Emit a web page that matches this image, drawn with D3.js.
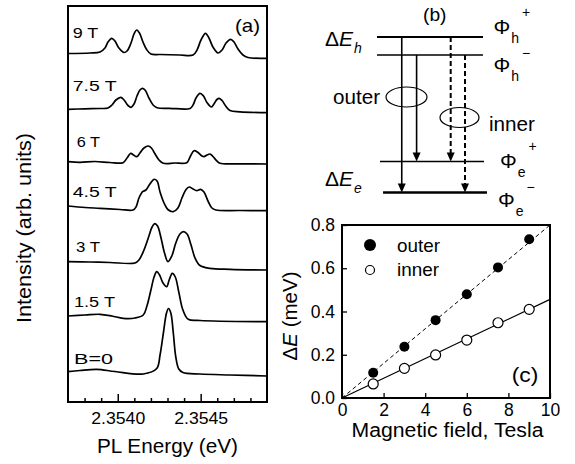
<!DOCTYPE html>
<html><head><meta charset="utf-8">
<script src="https://cdn.jsdelivr.net/npm/d3@7"></script>
<style>
body{margin:0;background:#fff;}
svg text{font-family:"Liberation Sans",Arial,Helvetica,sans-serif;fill:#000;}
</style></head><body>
<svg id="chart" width="575" height="464"></svg>
<script>
// ---------------- DATA ----------------
// Panel (a): PL spectra, [energy (eV), intensity incl. vertical offset (arb. units)]
const fieldLabels = ["9 T","7.5 T","6 T","4.5 T","3 T","1.5 T","B=0"];
const trace9T = [[2.353700,348.5],[2.353833,349],[2.353893,350],[2.353923,354],[2.353941,360],[2.353964,363.7],[2.353983,361],[2.354007,354],[2.354038,349.5],[2.354056,351],[2.354080,359],[2.354098,368],[2.354114,372],[2.354131,369],[2.354152,360],[2.354176,352],[2.354200,348],[2.354255,347.5],[2.354375,347],[2.354454,347],[2.354478,352],[2.354502,362],[2.354529,368.7],[2.354550,364],[2.354574,355],[2.354605,349],[2.354629,352],[2.354653,359],[2.354681,362.7],[2.354701,360],[2.354725,353],[2.354755,347],[2.354785,344.5],[2.354898,343.7]];
const trace75T = [[2.353700,292.7],[2.353803,293.2],[2.353893,293.5],[2.353941,294],[2.353965,297],[2.353989,302],[2.354018,304.7],[2.354038,302],[2.354062,296.5],[2.354080,294.7],[2.354098,298],[2.354116,306],[2.354134,312],[2.354150,313.7],[2.354167,311.5],[2.354188,304],[2.354213,297],[2.354237,294.3],[2.354314,293.7],[2.354436,293.5],[2.354454,297],[2.354472,304],[2.354496,308.7],[2.354517,306],[2.354538,299.5],[2.354565,295],[2.354580,298],[2.354598,302.5],[2.354612,303.7],[2.354629,301.5],[2.354653,295.5],[2.354677,291.5],[2.354737,290.2],[2.354898,289.3]];
const trace6T = [[2.353700,240.3],[2.353772,239.7],[2.353863,240.5],[2.353953,239.5],[2.354032,239.3],[2.354056,244],[2.354078,248.7],[2.354095,247],[2.354114,245.3],[2.354134,249],[2.354158,254],[2.354184,256],[2.354203,254],[2.354225,248],[2.354249,242],[2.354275,238.7],[2.354344,239],[2.354416,239.3],[2.354436,245],[2.354460,251.3],[2.354484,249.5],[2.354508,246],[2.354520,245.3],[2.354538,247],[2.354556,248],[2.354574,245.5],[2.354598,241],[2.354617,238.7],[2.354737,238.2],[2.354898,238]];
const trace45T = [[2.353700,196],[2.353803,194.5],[2.353893,193.7],[2.354014,192.5],[2.354092,192],[2.354110,195],[2.354128,204],[2.354150,210.3],[2.354170,212],[2.354194,218],[2.354219,222.7],[2.354237,221],[2.354255,210],[2.354279,199],[2.354302,192.5],[2.354334,190.3],[2.354363,194],[2.354387,204],[2.354412,212.5],[2.354431,215],[2.354454,213],[2.354476,211.3],[2.354500,212.7],[2.354520,210],[2.354544,201],[2.354568,194],[2.354592,192],[2.354737,191.5],[2.354898,191.3]];
const trace3T = [[2.353700,140.3],[2.353833,140],[2.353953,139.5],[2.354104,139],[2.354128,142],[2.354158,152],[2.354188,166],[2.354207,175],[2.354223,178.3],[2.354240,176],[2.354261,164],[2.354282,149],[2.354303,140.3],[2.354326,146],[2.354350,159],[2.354375,168],[2.354396,170.3],[2.354418,168],[2.354442,157],[2.354466,144],[2.354496,136.5],[2.354556,133.7],[2.354677,132.7],[2.354898,132]];
const trace15T = [[2.353700,86],[2.353803,87],[2.353893,87.7],[2.353965,86],[2.354033,83.7],[2.354104,84],[2.354154,87],[2.354176,96],[2.354200,112],[2.354219,125],[2.354235,130.3],[2.354252,127],[2.354273,119],[2.354295,115.3],[2.354310,122],[2.354329,128.7],[2.354347,125],[2.354368,110],[2.354393,92],[2.354425,82.7],[2.354496,81.5],[2.354898,80.3]];
const trace0T = [[2.353700,30.3],[2.353772,31.5],[2.353873,32.7],[2.353983,30.5],[2.354154,28],[2.354235,33.5],[2.354255,47],[2.354276,70],[2.354294,89],[2.354306,93.5],[2.354320,89],[2.354335,69],[2.354350,45],[2.354368,33],[2.354393,29.5],[2.354496,28],[2.354677,27],[2.354898,26]];
const energyMajorTicks = [2.3540, 2.3545];
const energyMinorTicks = [2.3538,2.3539,2.3541,2.3542,2.3543,2.3544,2.3546,2.3547,2.3548];

// Panel (b): level scheme
const levelNames = [["h","+"],["h","\u2212"],["e","+"],["e","\u2212"]];
const levelEnergies = [1.0, 0.885, 0.2, 0.0];
// transitions: [from level, to level, kind]
const transitions = [[0,3,"outer"],[1,2,"outer"],[0,2,"inner"],[1,3,"inner"]];

// Panel (c): splitting vs field
const fields = [1.5, 3, 4.5, 6, 7.5, 9];
const outerSplit = [0.117, 0.237, 0.36, 0.48, 0.604, 0.734];
const innerSplit = [0.065, 0.137, 0.199, 0.268, 0.348, 0.41];
const outerFit = [[0,0],[10,0.8]];
const innerFit = [[0,0],[10,0.456]];
const fieldTicks = [0,2,4,6,8,10];
const splitTicks = [0.0,0.2,0.4,0.6,0.8];

// ---------------- DRAW ----------------
const svg = d3.select("#chart");
function label(g, x, y, s, size, o = {}) {
  const t = g.append("text").attr("x", x).attr("y", y).attr("font-size", size).text(s);
  if (o.anchor) t.attr("text-anchor", o.anchor);
  if (o.len) t.attr("textLength", o.len).attr("lengthAdjust", "spacingAndGlyphs");
  if (o.rotate) t.attr("transform", `rotate(${o.rotate},${x},${y})`);
  if (o.italic) t.attr("font-style", "italic");
  return t;
}

// ===== Panel (a) =====
const ga = svg.append("g");
const xa = d3.scaleLinear().domain([2.3537, 2.3549]).range([68, 267]);
const ya = d3.scaleLinear().domain([0, 396]).range([402, 6]);
const traces = [trace9T, trace75T, trace6T, trace45T, trace3T, trace15T, trace0T];
const lineA = d3.line().x(d => xa(d[0])).y(d => ya(d[1])).curve(d3.curveCatmullRom.alpha(0.5));
ga.selectAll("path.trace").data(traces).join("path").attr("class", "trace")
  .attr("d", lineA).attr("fill", "none").attr("stroke", "#000").attr("stroke-width", 1.7)
  .attr("stroke-linejoin", "round");

const axMaj = d3.axisBottom(xa).tickValues(energyMajorTicks).tickFormat(d3.format(".4f"))
  .tickSizeInner(-8).tickSizeOuter(0).tickPadding(11);
const axMin = d3.axisBottom(xa).tickValues(energyMinorTicks).tickFormat("")
  .tickSizeInner(-4).tickSizeOuter(0);
const gaxMin = ga.append("g").attr("transform", "translate(0,402)").call(axMin);
const gaxMaj = ga.append("g").attr("transform", "translate(0,402)").call(axMaj);
[gaxMin, gaxMaj].forEach(g => {
  g.select(".domain").remove();
  g.selectAll("line").attr("stroke", "#000").attr("stroke-width", 1.5);
});
gaxMaj.selectAll("text").attr("font-size", 16).attr("fill", "#000")
  .attr("font-family", '"Liberation Sans",Arial,sans-serif')
  .attr("textLength", 54).attr("lengthAdjust", "spacingAndGlyphs");

ga.append("rect").attr("x", 68).attr("y", 6).attr("width", 199).attr("height", 396)
  .attr("fill", "none").attr("stroke", "#000").attr("stroke-width", 2);

const fieldLabelPos = [[72.7,37.5,25.6],[72.7,90.5,44],[76.7,147,23.3],[72.7,197,44],[76,252,24],[74,306.5,41],[74,363.5,39]];
fieldLabels.forEach((s, i) => {
  const p = fieldLabelPos[i];
  label(ga, p[0], p[1], s, 15.5, { len: p[2] });
});
label(ga, 235, 32, "(a)", 19, { len: 25 });
label(ga, 167.5, 453, "PL Energy (eV)", 19.5, { anchor: "middle", len: 141 });
label(ga, 31, 228, "Intensity  (arb. units)", 19.5, { anchor: "middle", len: 190, rotate: -90 });

// ===== Panel (b) =====
const gb = svg.append("g");
const xb = d3.scaleLinear().domain([0, 1]).range([377, 487]);
const yb = d3.scaleLinear().domain([0, 1]).range([192.5, 37]);
const levelExtent = [[0, 0.964], [0, 0.964], [0.027, 0.973], [0.055, 1]];
const levelWidth = [2, 1.5, 1.5, 2.6];
levelEnergies.forEach((e, i) => {
  gb.append("line").attr("x1", xb(levelExtent[i][0])).attr("x2", xb(levelExtent[i][1]))
    .attr("y1", yb(e)).attr("y2", yb(e)).attr("stroke", "#000").attr("stroke-width", levelWidth[i]);
});
const slots = [0.225, 0.36, 0.67, 0.80];
transitions.forEach((t, i) => {
  const x = xb(slots[i]), y1 = yb(levelEnergies[t[0]]), y2 = yb(levelEnergies[t[1]]);
  const ah = 9, aw = 4;
  gb.append("line").attr("x1", x).attr("x2", x).attr("y1", y1).attr("y2", y2 - ah + 1)
    .attr("stroke", "#000").attr("stroke-width", t[2] === "outer" ? 1.6 : 2)
    .attr("stroke-dasharray", t[2] === "outer" ? null : "5,3");
  gb.append("path").attr("d", `M${x - aw},${y2 - ah}L${x + aw},${y2 - ah}L${x},${y2}Z`).attr("fill", "#000");
});
gb.append("ellipse").attr("cx", 406.5).attr("cy", 97).attr("rx", 20.5).attr("ry", 10)
  .attr("fill", "none").attr("stroke", "#000").attr("stroke-width", 1.2);
gb.append("ellipse").attr("cx", 459.5).attr("cy", 117.5).attr("rx", 19.5).attr("ry", 10)
  .attr("fill", "none").attr("stroke", "#000").attr("stroke-width", 1.2);
label(gb, 333, 103.5, "outer", 19.5, { len: 47 });
label(gb, 489, 130.5, "inner", 19.5, { len: 46 });
label(gb, 423, 20.5, "(b)", 19, { len: 23.5 });

function deltaE(g, x, y, sub) {
  const t = g.append("text").attr("x", x).attr("y", y).attr("font-size", 21);
  t.append("tspan").text("\u0394");
  t.append("tspan").attr("font-style", "italic").text("E");
  t.append("tspan").attr("font-style", "italic").attr("font-size", 14).attr("dx", 1).attr("dy", 7).text(sub);
}
deltaE(gb, 325, 46, "h");
deltaE(gb, 325, 185.5, "e");

const phiPos = [[493.5, 33.5], [493.5, 72], [500, 168], [498, 207]];
const supDy = [-17, -14, -17, -15];
levelNames.forEach((n, i) => {
  const p = phiPos[i];
  const t = gb.append("text").attr("x", p[0]).attr("y", p[1]).attr("font-size", 21);
  t.append("tspan").text("\u03A6");
  t.append("tspan").attr("font-size", 14).attr("dx", 1).attr("dy", 9).text(n[0]);
  t.append("tspan").attr("font-size", 14).attr("dx", 3).attr("dy", supDy[i] - 9).text(n[1]);
});

// ===== Panel (c) =====
const gc = svg.append("g");
const xc = d3.scaleLinear().domain([0, 10]).range([342, 550]);
const yc = d3.scaleLinear().domain([0, 0.8]).range([398, 225]);
const lineC = d3.line().x(d => xc(d[0])).y(d => yc(d[1]));
gc.append("path").attr("d", lineC(outerFit)).attr("fill", "none").attr("stroke", "#000")
  .attr("stroke-width", 1).attr("stroke-dasharray", "4,3");
gc.append("path").attr("d", lineC(innerFit)).attr("fill", "none").attr("stroke", "#000")
  .attr("stroke-width", 1.2);

const axXc = d3.axisBottom(xc).tickValues(fieldTicks).tickFormat(d3.format("d"))
  .tickSizeInner(-5).tickSizeOuter(0).tickPadding(6);
const axYc = d3.axisLeft(yc).tickValues(splitTicks).tickFormat(d3.format(".1f"))
  .tickSizeInner(-5).tickSizeOuter(0).tickPadding(7);
const gxc = gc.append("g").attr("transform", "translate(0,398)").call(axXc);
const gyc = gc.append("g").attr("transform", "translate(342,0)").call(axYc);
[gxc, gyc].forEach(g => {
  g.select(".domain").remove();
  g.selectAll("line").attr("stroke", "#000").attr("stroke-width", 1.3);
  g.selectAll("text").attr("font-size", 17.5).attr("fill", "#000")
    .attr("font-family", '"Liberation Sans",Arial,sans-serif');
});
gc.append("rect").attr("x", 342).attr("y", 225).attr("width", 208).attr("height", 173)
  .attr("fill", "none").attr("stroke", "#000").attr("stroke-width", 2);

const pts = fields.map((f, i) => ({ f, o: outerSplit[i], n: innerSplit[i] }));
gc.selectAll("circle.outer").data(pts).join("circle").attr("class", "outer")
  .attr("cx", d => xc(d.f)).attr("cy", d => yc(d.o)).attr("r", 5).attr("fill", "#000");
gc.selectAll("circle.inner").data(pts).join("circle").attr("class", "inner")
  .attr("cx", d => xc(d.f)).attr("cy", d => yc(d.n)).attr("r", 5).attr("fill", "#fff")
  .attr("stroke", "#000").attr("stroke-width", 1.2);

gc.append("circle").attr("cx", 370).attr("cy", 245).attr("r", 6).attr("fill", "#000");
gc.append("circle").attr("cx", 370).attr("cy", 270).attr("r", 4.5).attr("fill", "#fff").attr("stroke", "#000").attr("stroke-width", 1.2);
label(gc, 397, 252, "outer", 19, { len: 43 });
label(gc, 397, 276, "inner", 19, { len: 42 });
label(gc, 511.7, 382, "(c)", 20, { len: 26.6 });
label(gc, 447.5, 437, "Magnetic field, Tesla", 19.5, { anchor: "middle", len: 192 });
const yl = gc.append("text").attr("x", 0).attr("y", 0).attr("font-size", 20.5)
  .attr("text-anchor", "middle").attr("transform", "translate(297,316) rotate(-90)");
yl.append("tspan").text("\u0394");
yl.append("tspan").attr("font-style", "italic").text("E");
yl.append("tspan").text(" (meV)");
</script>
</body></html>
